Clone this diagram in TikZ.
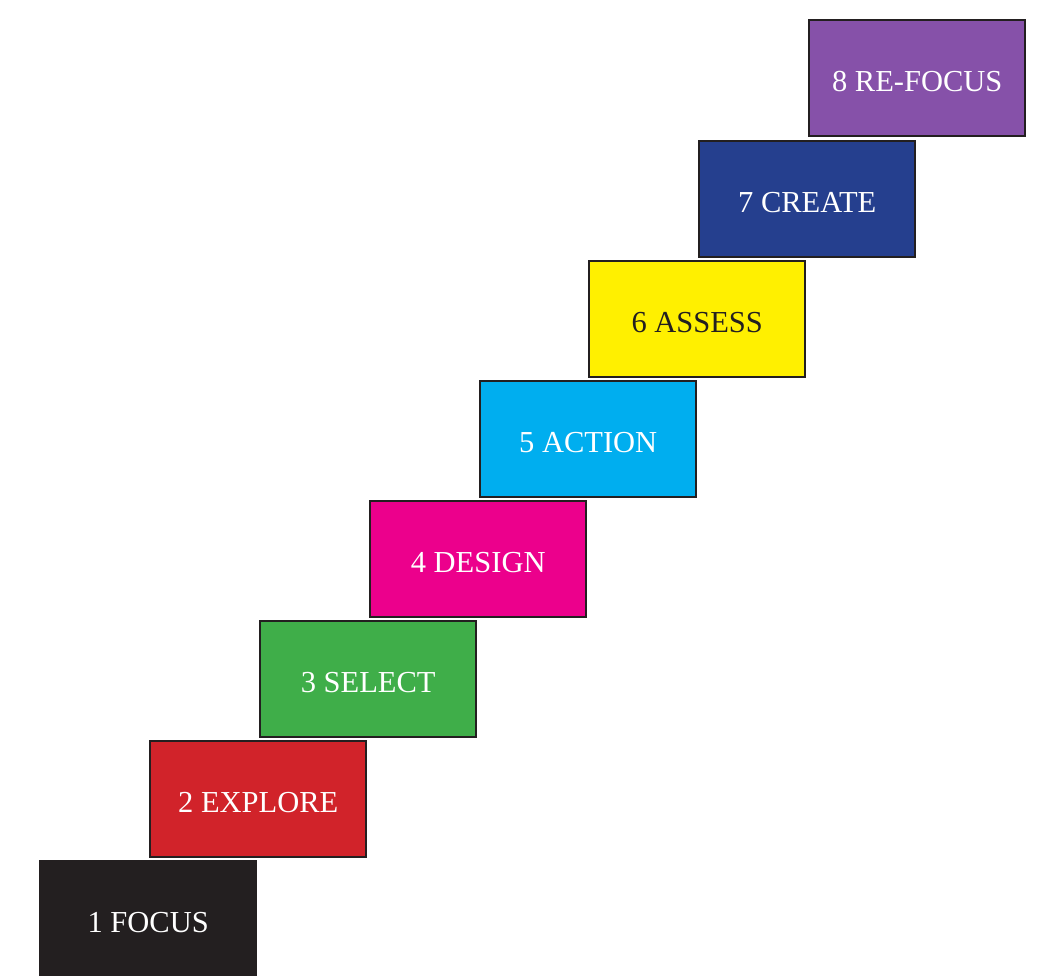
\documentclass[tikz,border=0pt]{standalone}
\usepackage{fontspec}
\setmainfont{Liberation Serif}
\definecolor{inkdark}{HTML}{231F20}
\definecolor{stpurple}{HTML}{8651A9}
\definecolor{stnavy}{HTML}{253F8E}
\definecolor{styellow}{HTML}{FFF000}
\definecolor{stcyan}{HTML}{00AEEF}
\definecolor{stmagenta}{HTML}{EC008C}
\definecolor{stgreen}{HTML}{3FAE49}
\definecolor{stred}{HTML}{D1232A}
\begin{document}
\begin{tikzpicture}[x=1pt,y=-1pt,
  stair/.style={draw=inkdark, line width=2.4pt, minimum width=216pt, minimum height=116pt,
    inner sep=0pt, text=white, font=\fontsize{30.5}{36}\selectfont, anchor=north west,
    text height=26pt, text depth=0pt},
]
\useasboundingbox (0,0) rectangle (1060,975);
\node[stair, fill=inkdark, draw=none, minimum width=218pt, minimum height=118pt] (s1) at (38,859) {1 FOCUS};
\node[stair, fill=stred]     (s2) at (149,740) {2 EXPLORE};
\node[stair, fill=stgreen]   (s3) at (259,620) {3 SELECT};
\node[stair, fill=stmagenta] (s4) at (369,500) {4 DESIGN};
\node[stair, fill=stcyan]    (s5) at (479,380) {5 ACTION};
\node[stair, fill=styellow, text=inkdark] (s6) at (588,260) {6 ASSESS};
\node[stair, fill=stnavy]    (s7) at (698,140) {7 CREATE};
\node[stair, fill=stpurple]  (s8) at (808,19) {8 RE-FOCUS};
\end{tikzpicture}
\end{document}
